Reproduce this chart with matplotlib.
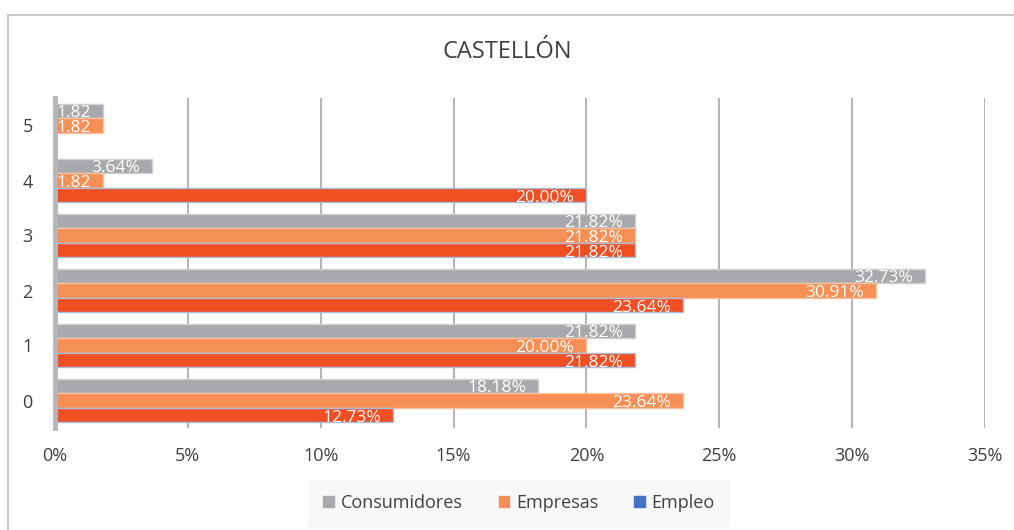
import matplotlib.pyplot as plt
from matplotlib.patches import Rectangle, Patch
import numpy as np

plt.rcParams['font.family'] = ['Open Sans', 'DejaVu Sans']

# Data
categories = ['0', '1', '2', '3', '4', '5']
consumidores = [18.18, 21.82, 32.73, 21.82, 3.64, 1.82]
empresas = [23.64, 20.00, 30.91, 21.82, 1.82, 1.82]
empleo = [12.73, 21.82, 23.64, 21.82, 20.00, 0.0]
consumidores_lbl = ['18.18%', '21.82%', '32.73%', '21.82%', '3.64%', '1.82']
empresas_lbl = ['23.64%', '20.00%', '30.91%', '21.82%', '1.82', '1.82']
empleo_lbl = ['12.73%', '21.82%', '23.64%', '21.82%', '20.00%', '']
xticks = [0, 5, 10, 15, 20, 25, 30, 35]

gray = '#A7A9AC'
orange = '#F58F55'
red = '#F04E23'
blue = '#4472C4'

fig = plt.figure(figsize=(10.14, 5.30), dpi=100)
# outer frame of the chart
fig.patches.append(Rectangle((8 / 1014, -0.1), 1.2, 1 - 15 / 530 + 0.1,
                             transform=fig.transFigure, fill=False,
                             edgecolor='#BFBFBF', linewidth=1.2))

ax = fig.add_axes([55 / 1014, 1 - 428 / 530, 930 / 1014, 330 / 530])

y = np.arange(len(categories))
h = 0.255
off = 0.272

series = [
    (consumidores, consumidores_lbl, gray, '#D0D1D3', off),
    (empresas, empresas_lbl, orange, '#F9C3A3', 0),
    (empleo, empleo_lbl, red, '#A9BDE0', -off),
]
for vals, lbls, col, edge, dy in series:
    bars = ax.barh(y + dy, vals, height=h, color=col, edgecolor=edge,
                   linewidth=1, zorder=3)
    for b, v, lb in zip(bars, vals, lbls):
        if v <= 0:
            continue
        ax.text(v - 0.45, b.get_y() + b.get_height() / 2 - 0.04, lb,
                ha='right', va='center', color='white', fontsize=12.5,
                zorder=4)

ax.set_xlim(0, 35)
ax.set_ylim(-0.5, 5.5)
ax.set_xticks(xticks)
ax.set_xticklabels([f'{t}%' for t in xticks])
ax.set_yticks(y)
ax.set_yticklabels(categories)
ax.tick_params(axis='both', length=0, labelsize=13, colors='#404040')
ax.tick_params(axis='x', pad=14)
ax.tick_params(axis='y', pad=16)

ax.grid(axis='x', color='#B4B6B9', linewidth=1.5, zorder=1)
for s in ['top', 'right', 'bottom']:
    ax.spines[s].set_visible(False)
ax.spines['left'].set_color('#B4B6B9')
ax.spines['left'].set_linewidth(3.5)
ax.spines['left'].set_zorder(5)

fig.text(0.5, 1 - 52 / 530, 'CASTELLÓN', ha='center', va='center',
         fontsize=17, color='#404040')

handles = [Patch(color=gray), Patch(color=orange), Patch(color=blue)]
leg = fig.legend(handles, ['Consumidores', 'Empresas', 'Empleo'],
                 loc='center', bbox_to_anchor=(519 / 1014, 1 - 503 / 530),
                 ncol=3, frameon=True, fontsize=13, handlelength=0.6,
                 handleheight=0.6, handletextpad=0.35, columnspacing=2.0,
                 borderpad=0.8)
leg.get_frame().set_facecolor('#F7F7F7')
leg.get_frame().set_edgecolor('#F7F7F7')
leg.get_frame().set_boxstyle('square', pad=0)
for t in leg.get_texts():
    t.set_color('#404040')

fig.savefig('out.png', dpi=100)
